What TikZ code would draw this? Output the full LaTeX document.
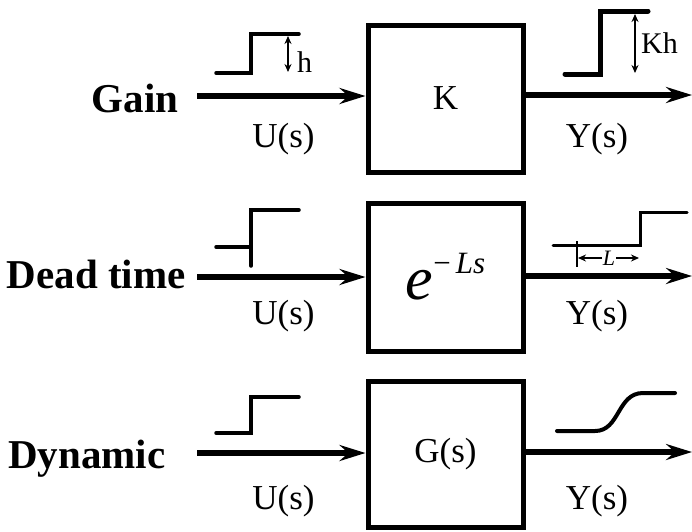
\documentclass[tikz,border=0pt]{standalone}
\usepackage{fontspec}
\setmainfont{Liberation Serif}
\usetikzlibrary{arrows.meta}

\begin{document}
\begin{tikzpicture}[x=1pt, y=-1pt,
        blk/.style={draw, line width=5pt, minimum width=155pt, inner sep=0pt,
                    font=\fontsize{35}{40}\selectfont},
        arr/.style={-{Stealth[length=26pt, width=16pt, inset=9pt]}, line width=5.5pt},
        sig/.style={line width=3.5pt, line cap=round},
        dim/.style={{Stealth[length=8pt, width=7pt]}-{Stealth[length=8pt, width=7pt]}, line width=1.5pt},
        lar/.style={-{Stealth[length=8pt, width=7pt]}, line width=2pt},
        lbl/.style={anchor=base, font=\fontsize{35}{40}\selectfont},
        row/.style={anchor=base east, font=\fontsize{41}{45}\selectfont\bfseries},
    ]
    \useasboundingbox (0,0) rectangle (692,531);

    \node[blk, minimum height=147pt] (gain) at (445.5,98.5) {K};
    \node[blk, minimum height=148pt] (dead) at (445.5,277)
        {\fontsize{62}{62}\selectfont\itshape e\raisebox{26pt}{\fontsize{31}{31}\selectfont\upshape −\,\itshape Ls}};
    \node[blk, minimum height=146pt] (dyn) at (445.5,454) {G(s)};

    \node[row] (tgain) at (182,112) {Gain};
    \node[row] (tdead) at (189,288) {Dead time};
    \node[row] (tdyn) at (169,468) {Dynamic};

    \coordinate (u1) at (197,96);
    \coordinate (u2) at (197,277);
    \coordinate (u3) at (197,453);
    \coordinate (y1) at (692,95);
    \coordinate (y2) at (692,276);
    \coordinate (y3) at (692,452);

    \draw[arr] (u1) -- (u1 -| gain.west);
    \draw[arr] (u2) -- (u2 -| dead.west);
    \draw[arr] (u3) -- (u3 -| dyn.west);
    \draw[arr] (y1 -| gain.east) -- (y1);
    \draw[arr] (y2 -| dead.east) -- (y2);
    \draw[arr] (y3 -| dyn.east) -- (y3);

    \node[lbl] (ugain) at (283.5,147) {U(s)};
    \node[lbl] (ygain) at (597,147) {Y(s)};
    \node[lbl] (udead) at (283.5,324) {U(s)};
    \node[lbl] (ydead) at (597,324) {Y(s)};
    \node[lbl] (udyn) at (283.5,509) {U(s)};
    \node[lbl] (ydyn) at (597,509) {Y(s)};

    % gain
    \draw[sig] (216,73) -- (251,73) -- (251,34) -- (299,34);
    \draw[dim] (288,36) -- (288,72);
    \node[anchor=base west, inner sep=0pt, font=\fontsize{30}{30}\selectfont] (hlbl) at (297,72) {h};
    \draw[sig, line width=5pt] (565,74) -- (600,74) -- (600,11) -- (648,11);
    \draw[dim] (635,14) -- (635,73);
    \node[anchor=base west, inner sep=0pt, font=\fontsize{30}{30}\selectfont] (khlbl) at (641,53) {Kh};

    % dead time
    \draw[sig] (216,247) -- (251,247);
    \draw[sig] (251,266) -- (251,210) -- (299,210);
    \draw[sig, line width=3pt] (553,245) -- (640,245) -- (640,212) -- (687,212);
    \draw[line width=2.5pt] (577,241) -- (577,267);
    \coordinate (ltick) at (578,258);
    \coordinate (lstep) at (639,258);
    \node[inner sep=1pt, font=\fontsize{22}{22}\selectfont\itshape] (llbl) at (609,258) {L};
    \draw[lar] (llbl.west) -- (ltick);
    \draw[lar] (llbl.east) -- (lstep);

    % dynamic
    \draw[sig] (216,433) -- (251,433) -- (251,397) -- (299,397);
    \draw[sig, line width=4pt] (557,431) -- (595,431)
        .. controls (620,431) and (617,393) .. (643,393) -- (675,393);
\end{tikzpicture}
\end{document}
